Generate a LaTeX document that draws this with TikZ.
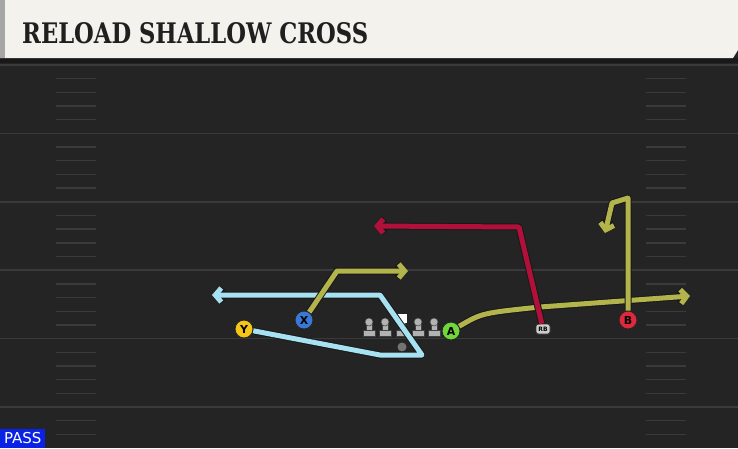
\documentclass[tikz,border=0pt]{standalone}
\usepackage{fontspec}
\setmainfont{DejaVu Sans}
\newfontfamily\titlefont{DejaVu Serif}
\usepackage{graphicx}
\usetikzlibrary{arrows.meta}
\definecolor{fieldbg}{HTML}{242424}
\definecolor{fieldline}{HTML}{3A3A3A}
\definecolor{titlebg}{HTML}{F4F2EC}
\definecolor{routeblue}{HTML}{A6E2F2}
\definecolor{routeolive}{HTML}{B3B44C}
\definecolor{routered}{HTML}{B0103A}
\definecolor{ycol}{HTML}{F5C518}
\definecolor{xcol}{HTML}{3A78D8}
\definecolor{acol}{HTML}{6FD63C}
\definecolor{bcol}{HTML}{E0283C}
\definecolor{passblue}{HTML}{0A22E6}
\tikzstyle{player}=[circle,draw=black!85,line width=0.9pt,minimum size=18pt,inner sep=0pt,font=\bfseries\fontsize{11}{11}\selectfont]
\tikzstyle{route}=[line width=5pt,line join=round,preaction={draw=black!90,line width=7pt,line join=round}]
\tikzstyle{hashmark}=[fieldline,line width=1.4pt]
\tikzstyle{lineman}=[fill=black!30,draw=black!75,line width=0.5pt]

\begin{document}
\begin{tikzpicture}[x=1pt,y=-1pt,>={Straight Barb[length=6pt,width=14pt]}]
\useasboundingbox (0,0) rectangle (738,448);
\fill[fieldbg] (0,0) rectangle (738,448);
% field lines and hash marks
\foreach \k in {0,...,5}
  \draw[fieldline,line width=1.6pt] (0,65+68.4*\k) -- (738,65+68.4*\k);
\foreach \n in {1,...,27}{
  \pgfmathtruncatemacro\r{mod(\n,5)}
  \ifnum\r>0
    \draw[hashmark] (56,65+13.68*\n) -- (96,65+13.68*\n);
    \draw[hashmark] (646,65+13.68*\n) -- (686,65+13.68*\n);
  \fi
}
% title bar
\fill[black!90] (0,58) rectangle (738,63);
\fill[titlebg] (0,0) -- (738,0) -- (738,50) -- (733,58) -- (0,58) -- cycle;
\fill[black!35] (0,0) rectangle (5,58);
\node[anchor=west,inner sep=0pt,text=black!88] (title) at (22,33)
  {\resizebox{346pt}{21pt}{\titlefont\bfseries RELOAD SHALLOW CROSS}};

% offensive line
\foreach \i/\x in {1/369,2/385,3/402,4/418,5/434}{
  \coordinate (ol\i) at (\x,327);
  \filldraw[lineman] (\x-6,336) rectangle (\x+6,330.5);
  \filldraw[lineman] (\x-3,330.5) rectangle (\x+3,324);
  \filldraw[lineman] (\x,322) circle (4pt);
}
\node[fill=white,minimum size=9pt,inner sep=0pt] (snap) at (402,318.5) {};
\node[circle,fill=black!55,minimum size=9pt,inner sep=0pt] (qb) at (402,347) {};

% players
\node[player,fill=ycol] (Y) at (244,329) {Y};
\node[player,fill=xcol] (X) at (304,320) {X};
\node[player,fill=acol] (A) at (451,331) {A};
\node[player,fill=bcol] (B) at (628,320) {B};
\node[rounded corners=2.5pt,fill=black!20,draw=black!80,line width=0.6pt,inner sep=0pt,
  minimum width=14pt,minimum height=10pt,
  font=\bfseries\fontsize{6}{6}\selectfont] (RB) at (543,329) {RB};

% route ends
\coordinate (yend) at (212,295);
\coordinate (xend) at (408,271);
\coordinate (aend) at (690,296);
\coordinate (bend) at (605,233);
\coordinate (rbend) at (374,226);

% routes
\draw[route,routeblue,->] (Y) -- (380,355) -- (422,355) -- (380,295) -- (yend);
\draw[route,routeolive,->] (X) -- (337,271) -- (xend);
\draw[route,routeolive,->] (A) .. controls (482,313) .. (540,307) -- (aend);
\draw[route,routeolive,->] (B) -- (628,198) -- (612,203) -- (bend);
\draw[route,routered,->] (RB) -- (519,227) -- (rbend);

% play type
\node[anchor=south west,fill=passblue,text=white,inner sep=0pt,minimum width=45pt,
  minimum height=19pt,font=\fontsize{15}{15}\selectfont] (pass) at (0,448) {PASS};
\end{tikzpicture}
\end{document}
